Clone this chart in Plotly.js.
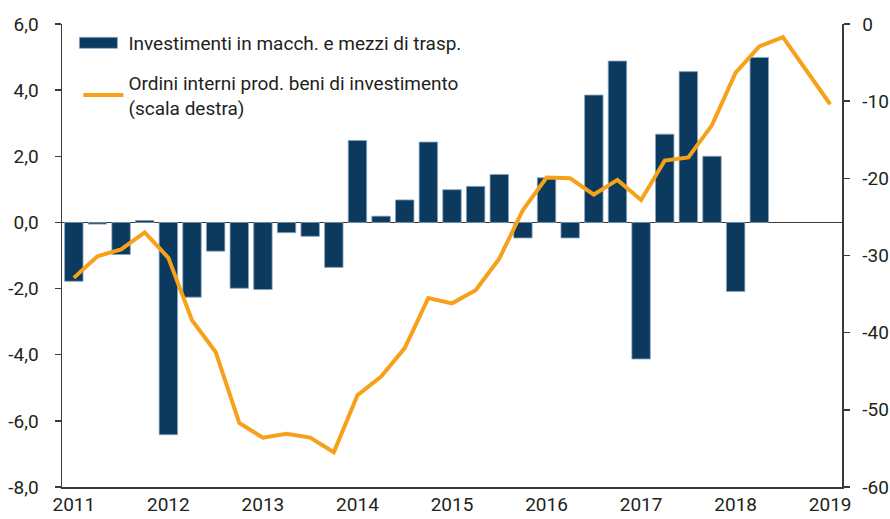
<!DOCTYPE html>
<html>
<head>
<meta charset="utf-8">
<script src="https://cdn.plot.ly/plotly-3.0.1.min.js"></script>
<style>
  html, body { margin: 0; padding: 0; background: #fff; }
  #chart { width: 890px; height: 519px; }
</style>
</head>
<body>
<div id="chart"></div>
<script>
// Quarters 2011 T1 .. 2019 T1
const quarters = [
  "2011 T1","2011 T2","2011 T3","2011 T4",
  "2012 T1","2012 T2","2012 T3","2012 T4",
  "2013 T1","2013 T2","2013 T3","2013 T4",
  "2014 T1","2014 T2","2014 T3","2014 T4",
  "2015 T1","2015 T2","2015 T3","2015 T4",
  "2016 T1","2016 T2","2016 T3","2016 T4",
  "2017 T1","2017 T2","2017 T3","2017 T4",
  "2018 T1","2018 T2","2018 T3","2018 T4",
  "2019 T1"
];

// Investimenti in macch. e mezzi di trasp. (left axis), 2011 T1 .. 2018 T2
const investimenti = [
  -1.78, -0.05, -0.97, 0.06,
  -6.42, -2.26, -0.87, -1.99,
  -2.03, -0.31, -0.42, -1.36,
  2.48, 0.19, 0.68, 2.43,
  0.99, 1.09, 1.45, -0.47,
  1.35, -0.47, 3.85, 4.88,
  -4.13, 2.67, 4.56, 2.00,
  -2.09, 4.99
];

// Ordini interni prod. beni di investimento (right axis), 2011 T1 .. 2019 T1
const ordini = [
  -32.9, -30.1, -29.2, -27.0,
  -30.3, -38.4, -42.5, -51.7,
  -53.6, -53.1, -53.6, -55.5,
  -48.1, -45.7, -42.0, -35.5,
  -36.2, -34.5, -30.4, -24.1,
  -19.9, -20.0, -22.1, -20.2,
  -22.8, -17.7, -17.3, -13.1,
  -6.3, -2.9, -1.7, -6.0,
  -10.4
];

const yearTickVals = ["2011 T1","2012 T1","2013 T1","2014 T1","2015 T1","2016 T1","2017 T1","2018 T1","2019 T1"];
const yearTickText = ["2011","2012","2013","2014","2015","2016","2017","2018","2019"];

const leftTickVals = [-8, -6, -4, -2, 0, 2, 4, 6];
const leftTickText = ["-8,0", "-6,0", "-4,0", "-2,0", "0,0", "2,0", "4,0", "6,0"];
const rightTickVals = [-60, -50, -40, -30, -20, -10, 0];
const rightTickText = ["-60", "-50", "-40", "-30", "-20", "-10", "0"];

const FONT = 'Roboto, "Liberation Sans", sans-serif';
const TXT = '#231f20';
const AX = '#3a3a3a';

const traces = [
  {
    type: 'bar',
    name: 'Investimenti in macch. e mezzi di trasp.',
    x: quarters.slice(0, investimenti.length),
    y: investimenti,
    marker: { color: '#0b3a5e', line: { color: '#8aa5bf', width: 0.8 } },
    legendgroup: 'a',
    hoverinfo: 'x+y'
  },
  {
    type: 'scatter',
    mode: 'lines',
    name: 'Ordini interni prod. beni di investimento<br>(scala destra)',
    x: quarters,
    y: ordini,
    yaxis: 'y2',
    line: { color: '#f7a11a', width: 4 },
    legendgroup: 'b',
    hoverinfo: 'x+y'
  }
];

const layout = {
  width: 890,
  height: 519,
  margin: { l: 62, r: 48, t: 24, b: 32, pad: 0 },
  paper_bgcolor: '#ffffff',
  plot_bgcolor: '#ffffff',
  font: { family: FONT, size: 19, color: TXT },
  bargap: 0.22,
  showlegend: true,
  legend: {
    x: 0.021, y: 1.0, xanchor: 'left', yanchor: 'top',
    bgcolor: 'rgba(0,0,0,0)',
    font: { family: FONT, size: 19, color: TXT },
    traceorder: 'grouped',
    tracegroupgap: 12,
    itemwidth: 40
  },
  xaxis: {
    type: 'category',
    categoryorder: 'array',
    categoryarray: quarters,
    range: [-0.5, 32.5],
    tickmode: 'array',
    tickvals: yearTickVals,
    ticktext: yearTickText,
    ticks: '',
    showgrid: false,
    zeroline: false,
    showline: true,
    linecolor: AX,
    linewidth: 1.5,
    tickfont: { family: FONT, size: 19, color: TXT },
    fixedrange: true
  },
  yaxis: {
    range: [-8, 6],
    tickmode: 'array',
    tickvals: leftTickVals,
    ticktext: leftTickText,
    ticks: 'outside',
    ticklen: 6,
    tickwidth: 1.5,
    tickcolor: AX,
    ticklabelstandoff: 12,
    showgrid: false,
    zeroline: true,
    zerolinecolor: AX,
    zerolinewidth: 1.5,
    showline: true,
    linecolor: AX,
    linewidth: 1.5,
    tickfont: { family: FONT, size: 19, color: TXT },
    fixedrange: true
  },
  yaxis2: {
    overlaying: 'y',
    side: 'right',
    range: [-60, 0],
    tickmode: 'array',
    tickvals: rightTickVals,
    ticktext: rightTickText,
    ticks: 'outside',
    ticklen: 6,
    tickwidth: 1.5,
    tickcolor: AX,
    ticklabelstandoff: 9,
    showgrid: false,
    zeroline: false,
    showline: true,
    linecolor: AX,
    linewidth: 1.5,
    tickfont: { family: FONT, size: 19, color: TXT },
    fixedrange: true
  }
};

Plotly.newPlot('chart', traces, layout, { displayModeBar: false, staticPlot: true }).then(function (gd) {
  // widen the bar legend glyph into a long rectangle like the original
  const pts = gd.querySelectorAll('.legend .traces .legendpoints path.legendundefined, .legend .traces .legendbar path');
  pts.forEach(function (p) {
    p.setAttribute('d', 'M-19,5.5H19V-5.5H-19Z');
    p.setAttribute('transform', 'translate(20,0)');
  });
});
</script>
</body>
</html>
